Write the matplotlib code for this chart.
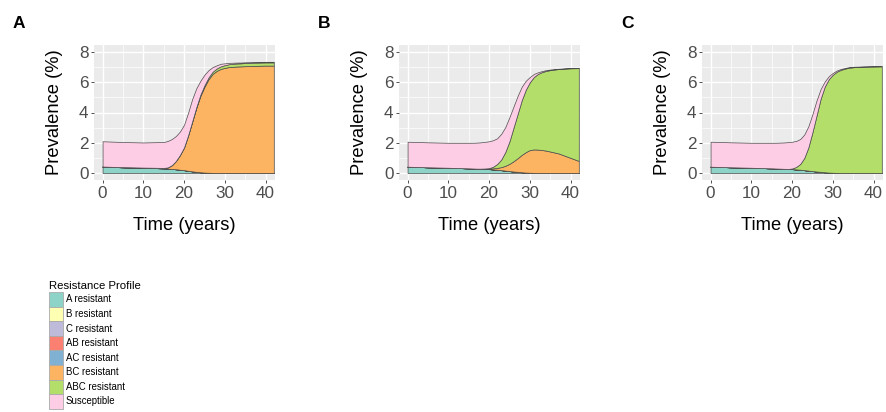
import numpy as np
import matplotlib
matplotlib.use("Agg")
import matplotlib.pyplot as plt
from matplotlib.patches import Rectangle

plt.rcParams["font.family"] = ["Liberation Sans", "DejaVu Sans"]

# time points (years)
t = [0, 5, 10, 15, 16, 17, 18, 19, 20, 21, 22, 23, 24, 25, 26, 27, 28, 29,
     30, 31, 32, 33, 34, 35, 37, 40, 42]

profiles = ["A resistant", "B resistant", "C resistant", "AB resistant",
            "AC resistant", "BC resistant", "ABC resistant", "Susceptible"]
colors = ["#8DD3C7", "#FFFFB3", "#BEBADA", "#FB8072",
          "#80B1D3", "#FDB462", "#B3DE69", "#FCCDE5"]

zeros = [0] * len(t)

# Panel A
a_A = [.42, .38, .35, .31, .29, .27, .25, .22, .19, .15, .11, .08, .05, .03,
       .02, .01, 0, 0, 0, 0, 0, 0, 0, 0, 0, 0, 0]
a_BC = [.01, .01, .01, .03, .08, .25, .55, .98, 1.51, 2.35, 3.29, 4.22, 5.05,
        5.67, 6.18, 6.54, 6.75, 6.88, 6.95, 7.0, 7.02, 7.04, 7.05, 7.06, 7.08,
        7.1, 7.1]
a_ABC = [0, 0, 0, 0, 0, 0, 0, 0, 0, 0, .02, .05, .08, .1, .12, .14, .16, .17,
         .18, .19, .2, .2, .2, .21, .21, .21, .21]
a_S = [1.67, 1.66, 1.66, 1.71, 1.75, 1.73, 1.65, 1.55, 1.5, 1.5, 1.48, 1.25,
       .92, .7, .48, .31, .21, .17, .12, .09, .07, .06, .05, .05, .04, .04, .04]

# Panel B
b_A = [.42, .38, .35, .31, .30, .29, .28, .27, .26, .24, .22, .19, .16, .13,
       .10, .08, .05, .03, .02, .01, 0, 0, 0, 0, 0, 0, 0]
b_BC = [0, 0, 0, 0, 0, 0, .01, .02, .04, .07, .12, .20, .32, .48, .68, .90,
        1.15, 1.35, 1.50, 1.55, 1.55, 1.52, 1.48, 1.42, 1.30, 1.00, .80]
b_ABC = [0, 0, 0, 0, 0, 0, 0, .01, .02, .11, .26, .51, .92, 1.49, 2.22, 2.92,
         3.6, 4.12, 4.48, 4.79, 5.0, 5.15, 5.27, 5.38, 5.57, 5.92, 6.13]
b_S = [1.65, 1.65, 1.65, 1.69, 1.70, 1.72, 1.74, 1.76, 1.78, 1.75, 1.7, 1.7,
       1.65, 1.6, 1.4, 1.2, .9, .6, .35, .2, .11, .07, .05, .04, .02, .02, .02]

# Panel C
c_A = [.42, .38, .35, .31, .30, .29, .28, .27, .26, .24, .22, .19, .16, .13,
       .10, .08, .05, .03, .02, .01, 0, 0, 0, 0, 0, 0, 0]
c_ABC = [0, 0, 0, 0, 0, 0, 0, 0, .04, .16, .38, .81, 1.54, 2.57, 3.7, 4.82,
         5.65, 6.17, 6.48, 6.69, 6.82, 6.9, 6.96, 6.99, 7.02, 7.04, 7.05]
c_S = [1.65, 1.65, 1.65, 1.69, 1.70, 1.72, 1.74, 1.77, 1.77, 1.72, 1.65, 1.55,
       1.4, 1.2, 1.0, .65, .35, .2, .12, .08, .06, .04, .04, .03, .02, .02, .01]

panels = [
    ("A", [a_A, zeros, zeros, zeros, zeros, a_BC, a_ABC, a_S]),
    ("B", [b_A, zeros, zeros, zeros, zeros, b_BC, b_ABC, b_S]),
    ("C", [c_A, zeros, zeros, zeros, zeros, zeros, c_ABC, c_S]),
]

W, H = 886, 412
fig = plt.figure(figsize=(W / 100, H / 100), dpi=100)

lefts = [94, 399, 702]
for (letter, layers), left in zip(panels, lefts):
    ax = fig.add_axes([left / W, 1 - 180 / H, 181 / W, 135 / H])
    ax.set_facecolor("#EBEBEB")
    ax.stackplot(t, *layers, colors=colors, edgecolor="#4D4D4D", linewidth=0.5)
    ax.set_xlim(-2.1, 42.3)
    ax.set_ylim(-0.46, 8.46)
    ax.set_xticks([0, 10, 20, 30, 40])
    ax.set_yticks([0, 2, 4, 6, 8])
    ax.set_xticks([5, 15, 25, 35], minor=True)
    ax.set_yticks([1, 3, 5, 7], minor=True)
    ax.grid(which="major", color="white", linewidth=1.0)
    ax.grid(which="minor", color="white", linewidth=0.5)
    ax.set_axisbelow(True)
    for s in ax.spines.values():
        s.set_visible(False)
    ax.tick_params(which="major", length=2.5, width=0.6, color="#333333",
                   labelsize=12.3, labelcolor="#4D4D4D", pad=1.5)
    ax.tick_params(which="minor", length=0)
    ax.set_xlabel("Time (years)", fontsize=13.2, va="center")
    ax.xaxis.set_label_coords(0.5, -0.34)
    ax.set_ylabel("Prevalence (%)", fontsize=13.2, va="center")
    ax.yaxis.set_label_coords(-0.218, 0.5)
    fig.text((left - 81) / W, 1 - 28 / H, letter, fontsize=12.5,
             fontweight="bold", ha="left", va="baseline")

# legend, drawn by hand so the keys touch like in ggplot
fig.text(49 / W, 1 - 289 / H, "Resistance Profile", fontsize=8.2,
         ha="left", va="baseline")
key_w, key_h, key_top = 14, 14.6, 292
for i, (name, col) in enumerate(zip(profiles, colors)):
    y0 = key_top + i * key_h
    fig.add_artist(Rectangle((49 / W, 1 - (y0 + key_h) / H), key_w / W, key_h / H,
                             transform=fig.transFigure, facecolor=col,
                             edgecolor="#AAAAAA", linewidth=0.6))
    fig.text(65.5 / W, 1 - (y0 + key_h / 2) / H, name, fontsize=6.9,
             ha="left", va="center")

fig.savefig("out.png", dpi=100)
